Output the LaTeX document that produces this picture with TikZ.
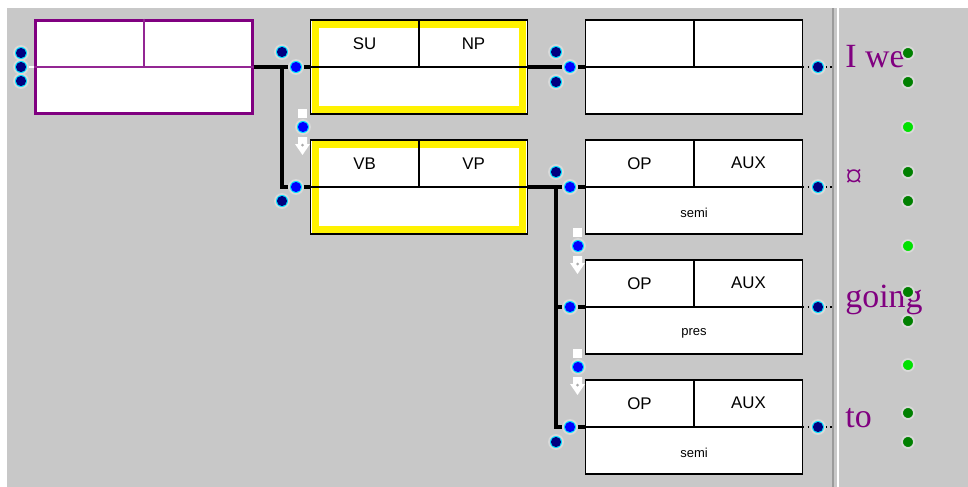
\documentclass[tikz,border=0pt]{standalone}
\usepackage{fontspec}
\setmainfont{Liberation Serif}
\newfontfamily\uifont{Liberation Sans}
\usepackage{tikz}
\usetikzlibrary{calc}
\definecolor{panel}{RGB}{200,200,200}
\definecolor{wordpurple}{RGB}{128,0,128}
\definecolor{portnavy}{RGB}{0,0,128}
\definecolor{portblue}{RGB}{0,0,255}
\definecolor{portring}{RGB}{0,225,255}
\definecolor{darkleaf}{RGB}{0,128,0}
\definecolor{lightleaf}{RGB}{0,225,0}
\definecolor{sepgray}{RGB}{155,155,155}
\newcommand{\dragmark}[1]{%
  \fill[white] ([shift={(-5,-18)}]#1.center) rectangle ([shift={(4,-9)}]#1.center);
  \fill[white] ([shift={(-5,10)}]#1.center) -- ([shift={(4,10)}]#1.center) -- ([shift={(4,17)}]#1.center)
    -- ([shift={(7,17)}]#1.center) -- ([shift={(-0.5,28)}]#1.center) -- ([shift={(-8,17)}]#1.center)
    -- ([shift={(-5,17)}]#1.center) -- cycle;
  \fill[panel!85!black] ([shift={(-0.5,18)}]#1.center) circle (1.5);
}
\tikzset{
  frame/.style={draw=black,line width=0.6pt,fill=white,inner sep=0pt,minimum width=4.34cm,minimum height=1.88cm},
  rootframe/.style={frame,draw=wordpurple,line width=1.7pt},
  activeframe/.style={frame,path picture={\draw[yellow,line width=4pt]
      ([shift={(2.7pt,2.7pt)}]path picture bounding box.south west) rectangle
      ([shift={(-2.7pt,-2.7pt)}]path picture bounding box.north east);}},
  divider/.style={draw=black,line width=0.6pt},
  rootdivider/.style={draw=wordpurple!85,line width=0.7pt},
  cell/.style={font=\uifont\fontsize{9.6}{11}\selectfont,inner sep=0pt},
  feat/.style={font=\uifont\fontsize{7.4}{9}\selectfont,inner sep=0pt},
  port/.style={circle,inner sep=0pt,minimum size=8pt,fill=portring,draw=white!70!gray,line width=1pt,
      path picture={\fill[#1] (path picture bounding box.center) circle (2.9pt);}},
  leaf/.style={circle,inner sep=0pt,minimum size=6.8pt,fill=#1,draw=white!70!gray,line width=1pt},
  wire/.style={draw=black,line width=2pt},
  probe/.style={draw=black,line width=0.6pt,dotted},
  word/.style={text=wordpurple,font=\fontsize{19.3}{22}\selectfont,inner sep=0pt,anchor=base west}
}
\begin{document}
\begin{tikzpicture}[x=0.02cm,y=-0.02cm]
  \useasboundingbox (0,0) rectangle (968,487);
  \fill[panel] (7,8) rectangle (968,487);
  % separator between tree and words
  \coordinate (sepN) at (833,8);
  \coordinate (sepS) at (833,487);
  \draw[sepgray,line width=1.2pt] (sepN) -- (sepS);
  \draw[white,line width=0.6pt] ($(sepN)+(5,0)$) -- ($(sepS)+(5,0)$);

  % frames
  \node[rootframe] (root) at (144,67) {};
  \node[activeframe] (su) at (419,67) {};
  \node[activeframe] (vb) at (419,187) {};
  \node[frame] (w1) at (694,67) {};
  \node[frame] (w2) at (694,187) {};
  \node[frame] (w3) at (694,307) {};
  \node[frame] (w4) at (694,427) {};
  \draw[rootdivider] (root.west) -- (root.east) (root.north) -- (root.center);
  \foreach \b in {su,vb,w1,w2,w3,w4}
    \draw[divider] (\b.west) -- (\b.east) (\b.north) -- (\b.center);

  % labels
  \foreach \b/\l/\r in {su/SU/NP,vb/VB/VP,w2/OP/AUX,w3/OP/AUX,w4/OP/AUX}{
    \node[cell] (\b-left) at ($(\b.north west)!0.5!(\b.center)$) {\l};
    \node[cell] (\b-right) at ($(\b.north east)!0.5!(\b.center)$) {\r};
  }
  \foreach \b/\t in {w2/semi,w3/pres,w4/semi}
    \node[feat] (\b-feat) at ($(\b.center)!0.55!(\b.south)$) {\t};

  % ports
  \node[port=portnavy] (root-l1) at (21,53) {};
  \node[port=portnavy] (root-l2) at (21,67) {};
  \node[port=portnavy] (root-l3) at (21,81) {};
  \node[port=portnavy] (root-r) at (282,52) {};
  \node[port=portblue] (su-in) at (296,67) {};
  \node[port=portblue] (vb-drop) at (303,127) {};
  \node[port=portblue] (vb-in) at (296,187) {};
  \node[port=portnavy] (vb-alt) at (282,201) {};
  \node[port=portnavy] (su-r1) at (556,52) {};
  \node[port=portnavy] (su-r2) at (556,82) {};
  \node[port=portblue] (w1-in) at (570,67) {};
  \node[port=portnavy] (vb-r) at (556,172) {};
  \node[port=portblue] (w2-in) at (570,187) {};
  \node[port=portblue] (w3-drop) at (578,246) {};
  \node[port=portblue] (w3-in) at (570,307) {};
  \node[port=portblue] (w4-drop) at (578,367) {};
  \node[port=portblue] (w4-in) at (570,427) {};
  \node[port=portnavy] (vb-end) at (556,442) {};
  \foreach \w in {w1,w2,w3,w4}
    \node[port=portnavy] (\w-out) at (818,0 |- \w.center) {};
  \dragmark{vb-drop}
  \dragmark{w3-drop}
  \dragmark{w4-drop}

  % wires
  \coordinate (jroot) at (282,67);
  \coordinate (jvb) at (556,187);
  \draw[white,line width=1.2pt] (root-l2.east) -- (root.west);
  \draw[wire] (root.east) -- (su-in.west);
  \draw[wire] (jroot) |- (vb-in.west);
  \draw[wire] (su-in.east) -- (su.west);
  \draw[wire] (vb-in.east) -- (vb.west);
  \draw[wire] (su.east) -- (w1-in.west);
  \draw[wire] (vb.east) -- (jvb) |- (w4-in.west);
  \draw[wire] (jvb) -- (w2-in.west);
  \draw[wire] (jvb |- w3-in) -- (w3-in.west);
  \foreach \w in {w1,w2,w3,w4}{
    \draw[wire] (\w-in.east) -- (\w.west);
    \draw[probe] (\w.east) -- (\w-out.west);
    \draw[probe] (\w-out.east) -- (\w-out.east -| sepN);
  }

  % words
  \node[word] (tok1) at (845,67) {I we};
  \node[word] (tok2) at (845,187) {¤};
  \node[word] (tok3) at (845,307) {going};
  \node[word] (tok4) at (845,427) {to};
  \foreach \y/\c in {53/darkleaf,82/darkleaf,127/lightleaf,172/darkleaf,201/darkleaf,246/lightleaf,
                     292/darkleaf,321/darkleaf,365/lightleaf,413/darkleaf,442/darkleaf}
    \node[leaf=\c] (leaf-\y) at (908,\y) {};
\end{tikzpicture}
\end{document}
